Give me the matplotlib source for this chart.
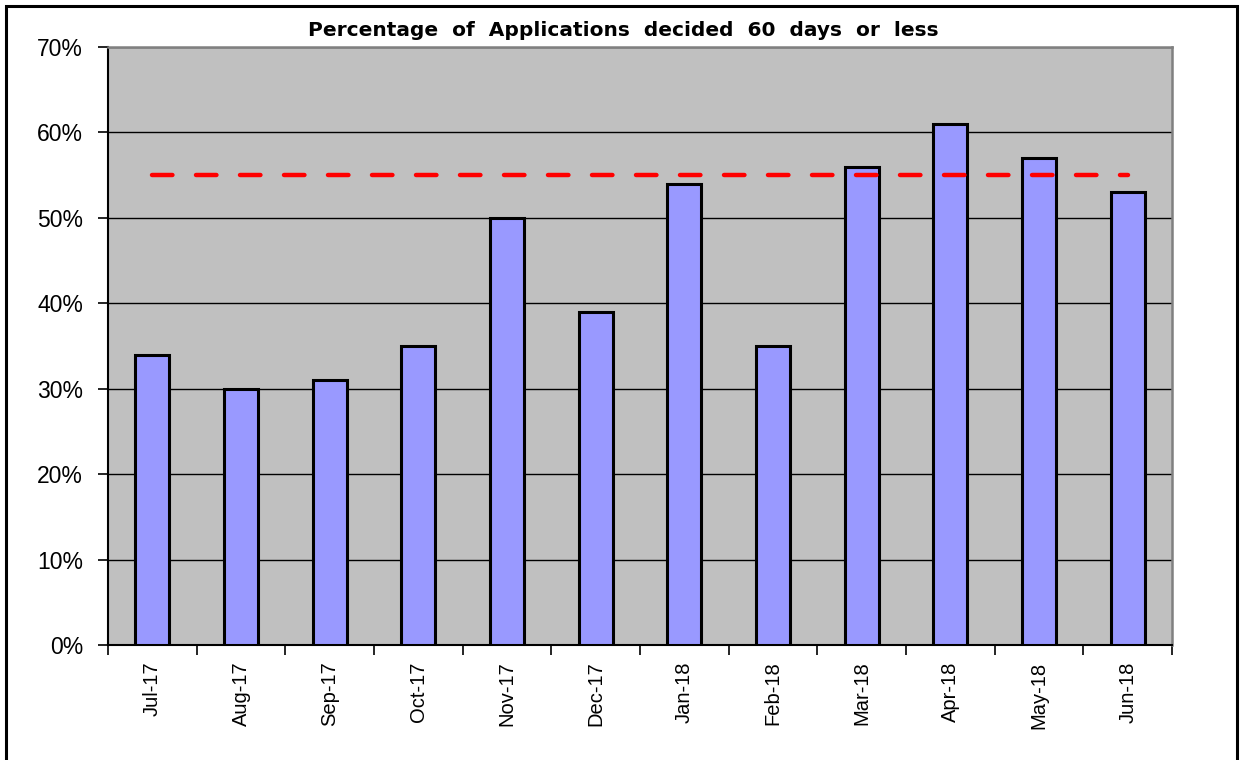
import numpy as np
import matplotlib.pyplot as plt
from matplotlib.patches import Rectangle
from matplotlib.ticker import FixedLocator, PercentFormatter

plt.rcParams['font.family'] = ['Liberation Sans', 'DejaVu Sans']

months = ['Jul-17', 'Aug-17', 'Sep-17', 'Oct-17', 'Nov-17', 'Dec-17',
          'Jan-18', 'Feb-18', 'Mar-18', 'Apr-18', 'May-18', 'Jun-18']
pct_decided = [34, 30, 31, 35, 50, 39, 54, 35, 56, 61, 57, 53]
target = [55] * len(months)

fig = plt.figure(figsize=(12.41, 7.60), dpi=100)
ax = fig.add_axes([108 / 1241, 1 - 645 / 760, (1172 - 108) / 1241, (645 - 47) / 760])
ax.set_facecolor('#C0C0C0')

x = np.arange(len(months))
ax.bar(x, pct_decided, width=0.38, color='#9999FF', edgecolor='black',
       linewidth=2.2, zorder=3)
ax.plot(x, target, color='#FF0000', linewidth=3.2, linestyle=(0, (4.6, 5.3)),
        dash_capstyle='round', zorder=4)

ax.set_xlim(-0.5, len(months) - 0.5)
ax.set_ylim(0, 70)
ax.set_yticks(np.arange(0, 71, 10))
ax.yaxis.set_major_formatter(PercentFormatter(decimals=0))
ax.grid(axis='y', color='black', linewidth=1, zorder=1)
ax.set_axisbelow(True)

ax.set_xticks(x)
ax.set_xticklabels(months, rotation=90)
ax.xaxis.set_minor_locator(FixedLocator(np.arange(-0.5, len(months), 1)))
ax.tick_params(axis='x', which='major', length=0, pad=12, labelsize=14.5)
ax.tick_params(axis='x', which='minor', length=7, width=1.2, direction='out')
ax.tick_params(axis='y', length=7, width=1.2, direction='out', labelsize=16.5, pad=11)

for side in ['left', 'bottom']:
    ax.spines[side].set_color('black')
    ax.spines[side].set_linewidth(1.5)
for side in ['top', 'right']:
    ax.spines[side].set_color('#808080')
    ax.spines[side].set_linewidth(1.8)

fig.text(623 / 1241, 1 - 31 / 760, 'Percentage  of  Applications  decided  60  days  or  less',
         ha='center', va='center', fontsize=14.5, fontweight='bold',
         family='DejaVu Sans')

# outer frame around the chart
fig.patches.append(Rectangle((6 / 1241, -0.05), (1237 - 6) / 1241, 1.05 - 6 / 760,
                             transform=fig.transFigure, fill=False,
                             edgecolor='black', linewidth=2.2, clip_on=False))

fig.savefig('out.png', dpi=100)
